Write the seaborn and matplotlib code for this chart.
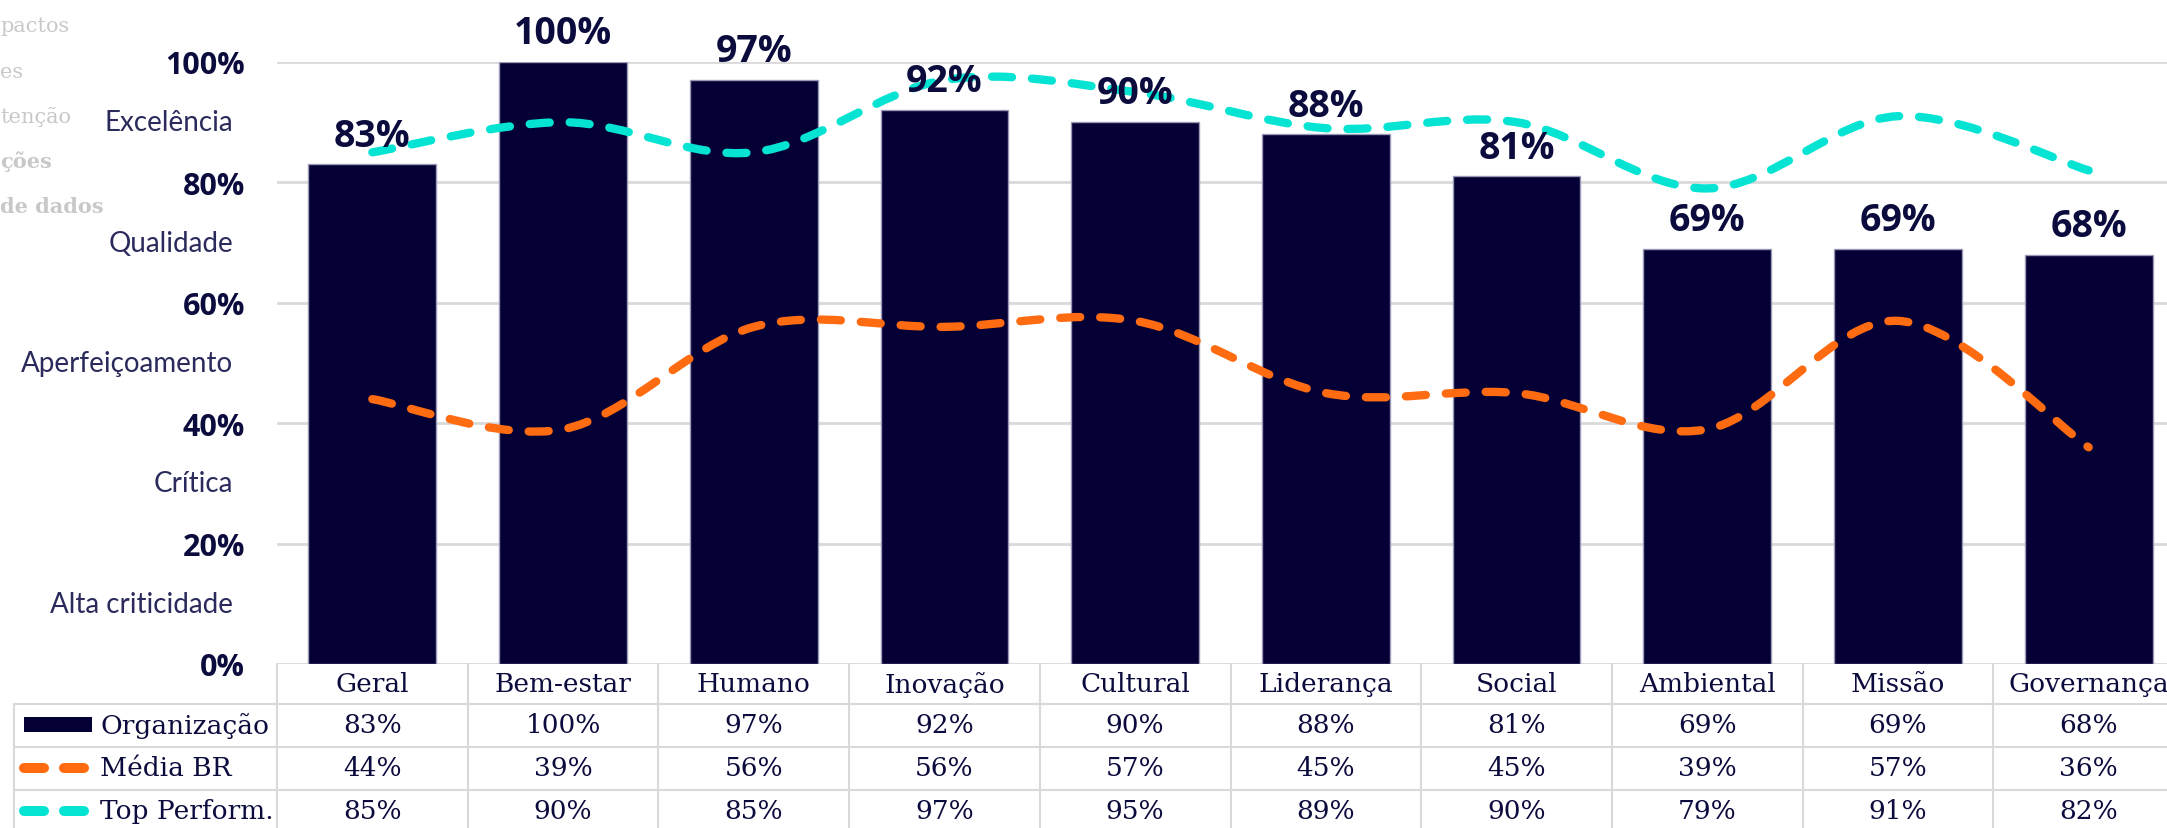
import numpy as np
import pandas as pd
import matplotlib
matplotlib.use("Agg")
import matplotlib.pyplot as plt
import seaborn as sns
from matplotlib.path import Path
from matplotlib.patches import PathPatch, Rectangle
from matplotlib.lines import Line2D
from matplotlib.transforms import blended_transform_factory

# Dados
categorias = ["Geral", "Bem-estar", "Humano", "Inovação", "Cultural",
              "Liderança", "Social", "Ambiental", "Missão", "Governança"]
organizacao = [83, 100, 97, 92, 90, 88, 81, 69, 69, 68]
media_br = [44, 39, 56, 56, 57, 45, 45, 39, 57, 36]
top_perform = [85, 90, 85, 97, 95, 89, 90, 79, 91, 82]
series_nomes = ["Organização", "Média BR", "Top Perform."]

niveis = ["Alta criticidade", "Crítica", "Aperfeiçoamento", "Qualidade", "Excelência"]
niveis_pos = [10, 30, 50, 70, 90]
yticks = [0, 20, 40, 60, 80, 100]

# texto cortado no canto superior esquerdo (sobra de outro elemento)
restos_texto = ["pactos", "es", "tenção", "ções", "de dados"]
restos_negrito = [False, False, False, True, True]

# Cores
NAVY = "#040035"
TXT = "#0b0b3d"
LARANJA = "#ff6b10"
CIANO = "#05e3d3"
GRADE = "#d9d9d9"

W, H = 2167, 829

sns.set_style("white")
plt.rcParams["font.family"] = ["Open Sans", "DejaVu Sans"]


def fy(py):
    return 1 - py / H


def curva_suave(xs, ys):
    # curva de Bezier no estilo "linha suavizada" do Excel
    pts = np.column_stack([xs, ys]).astype(float)
    n = len(pts)
    verts = [pts[0]]
    codes = [Path.MOVETO]
    for i in range(n - 1):
        p0 = pts[max(i - 1, 0)]
        p1 = pts[i]
        p2 = pts[i + 1]
        p3 = pts[min(i + 2, n - 1)]
        c1 = p1 + (p2 - p0) / 6
        c2 = p2 - (p3 - p1) / 6
        verts += [c1, c2, p2]
        codes += [Path.CURVE4] * 3
    return Path(verts, codes)


fig = plt.figure(figsize=(W / 100, H / 100), dpi=100)
ax = fig.add_axes([277 / W, 1 - 665 / H, 1907 / W, 602 / H])

df = pd.DataFrame({"categoria": categorias, "valor": organizacao})
sns.barplot(data=df, x="categoria", y="valor", color=NAVY, saturation=1,
            width=0.67, edgecolor="#9a9ab8", linewidth=1, ax=ax, zorder=2)

ax.set_xlim(-0.5, 9.5)
ax.set_ylim(0, 100)
ax.set_xlabel("")
ax.set_ylabel("")
ax.set_yticks(yticks)
ax.set_yticklabels([f"{v}%" for v in yticks], fontsize=22, fontweight="bold", color=TXT)
ax.tick_params(axis="y", length=0, pad=23)
ax.tick_params(axis="x", length=0, labelbottom=False)
ax.grid(axis="y", color=GRADE, lw=2)
ax.set_axisbelow(True)
for s in ax.spines.values():
    s.set_visible(False)

# linhas suavizadas tracejadas
for vals, cor in [(media_br, LARANJA), (top_perform, CIANO)]:
    patch = PathPatch(curva_suave(range(len(vals)), vals), fill=False, edgecolor=cor,
                      lw=6, linestyle=(0, (2.4, 2.4)), capstyle="round", zorder=3)
    ax.add_patch(patch)

ax.bar_label(ax.containers[0], labels=[f"{v}%" for v in organizacao], padding=7,
             fontsize=27, fontweight="bold", color=TXT, zorder=4)

# faixas de classificação à esquerda
ytr = ax.get_yaxis_transform()
for nome, pos in zip(niveis, niveis_pos):
    ax.text(-44 / 1907, pos, nome, transform=ytr, ha="right", va="center",
            fontsize=20, family="Lato", color="#2a2a5c")

for i, (t, b) in enumerate(zip(restos_texto, restos_negrito)):
    fig.text(0, fy(27 + 45 * i), t, ha="left", va="center", fontsize=15,
             family="DejaVu Serif", fontweight="bold" if b else "normal", color="#c8c8c8")

# tabela de dados
tr = blended_transform_factory(ax.transData, fig.transFigure)
fonte_tab = dict(family="DejaVu Serif", fontsize=19, color=TXT)

for i in range(len(categorias) + 1):
    fig.add_artist(Line2D([i - 0.5, i - 0.5], [fy(665), 0], transform=tr, color=GRADE, lw=1.5))
for yy in [705, 748, 791]:
    fig.add_artist(Line2D([14 / W, 1], [fy(yy), fy(yy)], transform=fig.transFigure, color=GRADE, lw=1.5))
fig.add_artist(Line2D([14 / W, 14 / W], [fy(705), 0], transform=fig.transFigure, color=GRADE, lw=1.5))

for i, c in enumerate(categorias):
    ax.text(i, fy(685), c, transform=tr, ha="center", va="center", **fonte_tab)

for r, vals in enumerate([organizacao, media_br, top_perform]):
    yy = fy(726 + 43 * r)
    for i, v in enumerate(vals):
        ax.text(i, yy, f"{v}%", transform=tr, ha="center", va="center", **fonte_tab)
    fig.text(100 / W, yy, series_nomes[r], ha="left", va="center", **fonte_tab)

# legendas da tabela
fig.add_artist(Rectangle((24 / W, fy(733)), 68 / W, 15 / H, transform=fig.transFigure,
                         color=NAVY, lw=0))
for r, cor in [(1, LARANJA), (2, CIANO)]:
    yy = fy(726 + 43 * r)
    fig.add_artist(Line2D([24 / W, 84 / W], [yy, yy], transform=fig.transFigure, color=cor,
                          lw=7.2, linestyle=(0, (2, 2)), dash_capstyle="round"))

fig.savefig("out.png", dpi=100)
